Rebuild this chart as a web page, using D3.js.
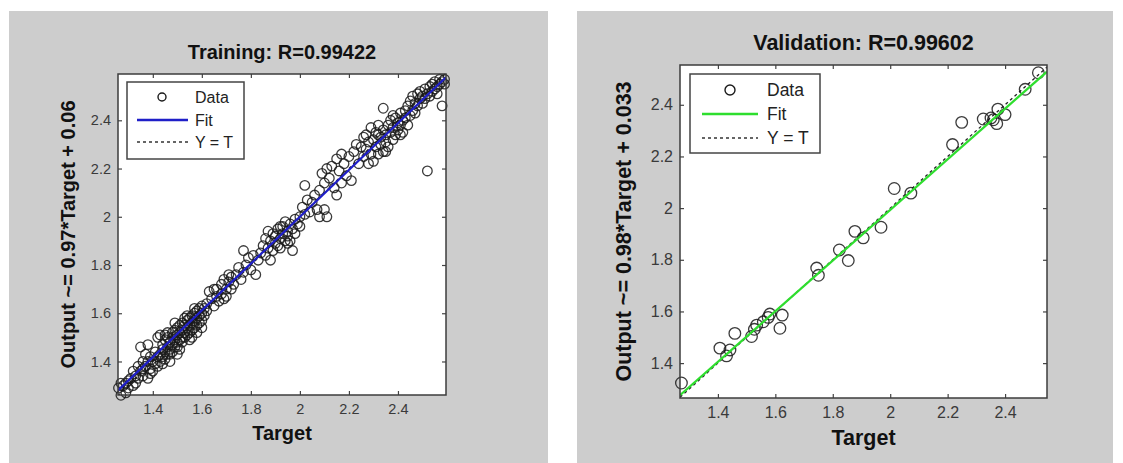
<!DOCTYPE html>
<html>
<head>
<meta charset="utf-8">
<script src="https://cdn.jsdelivr.net/npm/d3@7"></script>
<style>
  body { margin: 0; background: #fff; }
  svg { display: block; font-family: "Liberation Sans", Arial, sans-serif; }
</style>
</head>
<body>
<svg id="chart" width="1123" height="463"></svg>
<script>
// DATA
// tick values and labels (same on both axes, both panels)
var tickValues = [1.4, 1.6, 1.8, 2.0, 2.2, 2.4];
var tickLabels = ["1.4", "1.6", "1.8", "2", "2.2", "2.4"];

// training set: [target, output]
var trainPoints = [
  [1.26,1.29],[1.27,1.26],[1.27,1.31],[1.28,1.30],[1.29,1.27],[1.30,1.32],[1.30,1.29],[1.31,1.33],
  [1.32,1.36],[1.32,1.30],[1.33,1.34],[1.34,1.38],[1.34,1.33],[1.35,1.46],[1.35,1.36],[1.36,1.40],
  [1.36,1.34],[1.37,1.43],[1.37,1.38],[1.38,1.33],[1.38,1.47],[1.38,1.40],[1.39,1.37],[1.39,1.42],
  [1.40,1.40],[1.40,1.36],[1.29,1.31],[1.33,1.31],[1.36,1.37],[1.39,1.35],
  [1.41,1.44],[1.41,1.39],[1.42,1.42],[1.42,1.50],[1.42,1.38],[1.43,1.51],[1.43,1.43],[1.43,1.40],
  [1.44,1.45],[1.44,1.47],[1.44,1.42],[1.45,1.49],[1.45,1.44],[1.45,1.41],[1.46,1.46],[1.46,1.50],
  [1.46,1.43],[1.47,1.48],[1.47,1.45],[1.47,1.43],[1.48,1.50],[1.48,1.47],[1.48,1.52],[1.48,1.44],
  [1.49,1.49],[1.49,1.46],[1.49,1.53],[1.50,1.51],[1.50,1.48],[1.50,1.54],[1.50,1.46],[1.51,1.52],
  [1.51,1.49],[1.51,1.55],[1.52,1.50],[1.52,1.53],[1.52,1.56],[1.52,1.48],[1.53,1.52],[1.53,1.55],
  [1.53,1.50],[1.54,1.54],[1.54,1.57],[1.54,1.51],[1.55,1.55],[1.55,1.52],[1.55,1.58],[1.56,1.56],
  [1.56,1.53],[1.56,1.59],[1.57,1.57],[1.57,1.54],[1.57,1.60],[1.58,1.58],[1.58,1.55],[1.58,1.61],
  [1.59,1.59],[1.59,1.56],[1.59,1.62],[1.60,1.60],[1.60,1.57],[1.61,1.62],[1.61,1.59],[1.62,1.61],
  [1.62,1.64],[1.45,1.51],[1.47,1.40],[1.49,1.56],[1.51,1.45],[1.53,1.58],[1.55,1.49],[1.57,1.62],
  [1.58,1.52],[1.60,1.63],[1.60,1.54],[1.44,1.39],[1.46,1.52],[1.50,1.43],[1.54,1.59],[1.56,1.50],
  [1.63,1.69],[1.64,1.66],[1.65,1.63],[1.66,1.70],[1.66,1.67],[1.67,1.65],[1.68,1.72],[1.68,1.68],
  [1.69,1.74],[1.70,1.70],[1.70,1.67],[1.71,1.73],[1.72,1.75],[1.72,1.70],[1.73,1.72],[1.74,1.76],
  [1.75,1.79],[1.77,1.86],[1.77,1.77],[1.78,1.80],[1.79,1.83],[1.80,1.78],[1.81,1.84],[1.82,1.76],
  [1.83,1.82],[1.84,1.85],[1.65,1.70],[1.69,1.66],[1.71,1.76],[1.76,1.74],
  [1.85,1.88],[1.86,1.84],[1.86,1.91],[1.87,1.94],[1.87,1.87],[1.88,1.82],[1.88,1.90],[1.89,1.93],
  [1.89,1.86],[1.90,1.89],[1.90,1.92],[1.91,1.95],[1.91,1.88],[1.92,1.91],[1.92,1.87],[1.93,1.96],
  [1.93,1.93],[1.94,1.90],[1.94,1.98],[1.95,1.94],[1.95,1.92],[1.96,1.97],[1.96,1.90],[1.97,1.86],
  [1.97,1.95],[1.98,1.99],[1.98,1.93],[1.99,1.97],[2.00,2.00],[2.00,1.96],[1.92,1.96],[1.95,1.89],
  [2.01,2.04],[2.02,2.13],[2.02,2.01],[2.03,2.07],[2.04,2.02],[2.05,2.06],[2.06,2.09],[2.07,2.03],
  [2.08,2.00],[2.08,2.11],[2.09,2.18],[2.10,2.03],[2.10,2.14],[2.11,2.20],[2.11,2.00],[2.12,2.16],
  [2.13,2.21],[2.14,2.12],[2.15,2.24],[2.15,2.09],[2.16,2.19],[2.17,2.14],[2.17,2.26],[2.18,2.22],
  [2.19,2.17],[2.20,2.25],[2.21,2.15],[2.22,2.27],[2.23,2.30],[2.24,2.22],[2.25,2.29],
  [2.26,2.33],[2.26,2.25],[2.27,2.34],[2.27,2.28],[2.28,2.22],[2.28,2.31],[2.29,2.37],[2.29,2.26],
  [2.30,2.32],[2.30,2.23],[2.31,2.35],[2.31,2.29],[2.32,2.38],[2.32,2.26],[2.33,2.33],[2.33,2.30],
  [2.34,2.45],[2.34,2.36],[2.34,2.27],[2.35,2.34],[2.35,2.31],[2.36,2.38],[2.36,2.29],[2.37,2.35],
  [2.37,2.40],[2.38,2.32],[2.38,2.37],[2.39,2.41],[2.39,2.34],[2.40,2.39],[2.40,2.36],[2.41,2.43],
  [2.41,2.38],[2.42,2.40],[2.42,2.35],[2.43,2.44],[2.43,2.41],[2.44,2.38],[2.44,2.46],[2.45,2.42],
  [2.32,2.34],[2.35,2.27],[2.38,2.42],[2.41,2.34],
  [2.45,2.48],[2.46,2.44],[2.46,2.50],[2.47,2.47],[2.47,2.43],[2.48,2.51],[2.48,2.46],[2.49,2.49],
  [2.49,2.52],[2.50,2.47],[2.50,2.50],[2.51,2.53],[2.51,2.49],[2.52,2.51],[2.52,2.19],[2.53,2.54],
  [2.53,2.50],[2.54,2.52],[2.54,2.55],[2.55,2.53],[2.55,2.56],[2.56,2.54],[2.56,2.51],[2.57,2.55],
  [2.57,2.57],[2.58,2.56],[2.58,2.46],[2.59,2.57],[2.59,2.55]
];

// validation set: [target, output]
var valPoints = [
  [1.273,1.323],[1.407,1.458],[1.430,1.428],[1.442,1.451],[1.459,1.515],[1.517,1.503],[1.527,1.531],
  [1.535,1.547],[1.558,1.560],[1.575,1.577],[1.581,1.590],[1.616,1.535],[1.624,1.586],[1.744,1.768],
  [1.750,1.740],[1.823,1.838],[1.854,1.797],[1.877,1.910],[1.906,1.885],[1.968,1.926],[2.014,2.076],
  [2.072,2.058],[2.217,2.246],[2.249,2.332],[2.324,2.345],[2.351,2.349],[2.359,2.342],[2.371,2.327],
  [2.375,2.383],[2.400,2.362],[2.470,2.460],[2.516,2.524]
];

// regression fits: output ~= slope*target + intercept
var trainFit = {slope: 0.97, intercept: 0.06};
var valFit = {slope: 0.98, intercept: 0.033};

var legendLabels = ["Data", "Fit", "Y = T"];

// LAYOUT of the two panels
var panels = [
  {
    bg: [9, 11, 539, 452], plot: [118, 74, 446, 395],
    xDom: [1.258, 2.596], yDom: [1.261, 2.592],
    points: trainPoints, fit: trainFit, fitColor: "#1f1fc8",
    title: "Training: R=0.99422", ylabel: "Output ~= 0.97*Target + 0.06",
    titleY: 59, ylabelX: 68, xlabelY: 440, labelSize: 20, tickSize: 14.5, r: 4.8,
    legend: {box: [127, 82, 244, 159], rows: [97, 120, 142], mark: 162, line: [137, 188], text: 195, size: 16}
  },
  {
    bg: [577, 11, 536, 452], plot: [680, 65, 1047, 398],
    xDom: [1.268, 2.546], yDom: [1.265, 2.554],
    points: valPoints, fit: valFit, fitColor: "#2ede2e",
    title: "Validation: R=0.99602", ylabel: "Output ~= 0.98*Target + 0.033",
    titleY: 50, ylabelX: 623, xlabelY: 445, labelSize: 21.5, tickSize: 16, r: 5.8,
    legend: {box: [690, 74, 820, 153], rows: [90, 114, 138], mark: 730, line: [702, 758], text: 767, size: 17.5}
  }
];

var svg = d3.select("#chart");

panels.forEach(function(p) {
  var g = svg.append("g");
  var x0 = p.plot[0], y0 = p.plot[1], x1 = p.plot[2], y1 = p.plot[3];

  g.append("rect")
    .attr("x", p.bg[0]).attr("y", p.bg[1])
    .attr("width", p.bg[2]).attr("height", p.bg[3])
    .attr("fill", "#cdcdcd");

  var x = d3.scaleLinear().domain(p.xDom).range([x0, x1]);
  var y = d3.scaleLinear().domain(p.yDom).range([y1, y0]);

  g.append("rect")
    .attr("x", x0).attr("y", y0)
    .attr("width", x1 - x0).attr("height", y1 - y0)
    .attr("fill", "#fff");

  var fmt = function(d) { return tickLabels[tickValues.indexOf(d)]; };

  // axes, ticks point inwards like matlab
  g.append("g").attr("transform", "translate(0," + y1 + ")")
    .call(d3.axisBottom(x).tickValues(tickValues).tickFormat(fmt).tickSizeInner(-4).tickSizeOuter(0).tickPadding(9));
  g.append("g").attr("transform", "translate(" + x0 + ",0)")
    .call(d3.axisLeft(y).tickValues(tickValues).tickFormat(fmt).tickSizeInner(-4).tickSizeOuter(0).tickPadding(7));
  g.append("g").attr("transform", "translate(0," + y0 + ")")
    .call(d3.axisTop(x).tickValues(tickValues).tickFormat("").tickSizeInner(-4).tickSizeOuter(0));
  g.append("g").attr("transform", "translate(" + x1 + ",0)")
    .call(d3.axisRight(y).tickValues(tickValues).tickFormat("").tickSizeInner(-4).tickSizeOuter(0));

  g.selectAll(".domain").remove();
  g.selectAll(".tick line").attr("stroke", "#444").attr("stroke-width", 1.2);
  g.selectAll(".tick text")
    .attr("fill", "#3a3a3a")
    .style("font-size", p.tickSize + "px")
    .style("font-family", "'Liberation Sans', Arial, sans-serif");

  // clip for lines
  var clipId = "clip" + x0;
  g.append("clipPath").attr("id", clipId).append("rect")
    .attr("x", x0).attr("y", y0).attr("width", x1 - x0).attr("height", y1 - y0);

  var lo = p.xDom[0], hi = p.xDom[1];

  // Y = T dotted line
  g.append("line")
    .attr("clip-path", "url(#" + clipId + ")")
    .attr("x1", x(lo)).attr("y1", y(lo))
    .attr("x2", x(hi)).attr("y2", y(hi))
    .attr("stroke", "#222").attr("stroke-width", 1.3)
    .attr("stroke-dasharray", "3,3");

  // data circles
  g.append("g").selectAll("circle")
    .data(p.points)
    .enter()
    .append("circle")
    .attr("cx", function(d) { return x(d[0]); })
    .attr("cy", function(d) { return y(d[1]); })
    .attr("r", p.r)
    .attr("fill", "none")
    .attr("stroke", "#1a1a1a")
    .attr("stroke-width", 1.3)
    .attr("stroke-opacity", 0.85);

  // fit line
  g.append("line")
    .attr("clip-path", "url(#" + clipId + ")")
    .attr("x1", x(lo)).attr("y1", y(p.fit.slope * lo + p.fit.intercept))
    .attr("x2", x(hi)).attr("y2", y(p.fit.slope * hi + p.fit.intercept))
    .attr("stroke", p.fitColor).attr("stroke-width", 2.2);

  // plot box
  g.append("rect")
    .attr("x", x0).attr("y", y0)
    .attr("width", x1 - x0).attr("height", y1 - y0)
    .attr("fill", "none").attr("stroke", "#3c3c3c").attr("stroke-width", 1.5);

  // legend
  var L = p.legend;
  g.append("rect")
    .attr("x", L.box[0]).attr("y", L.box[1])
    .attr("width", L.box[2] - L.box[0]).attr("height", L.box[3] - L.box[1])
    .attr("fill", "#fff").attr("stroke", "#444").attr("stroke-width", 1.5);
  g.append("circle")
    .attr("cx", L.mark).attr("cy", L.rows[0]).attr("r", p.r - 0.8)
    .attr("fill", "none").attr("stroke", "#1a1a1a").attr("stroke-width", 1.4);
  g.append("line")
    .attr("x1", L.line[0]).attr("x2", L.line[1])
    .attr("y1", L.rows[1]).attr("y2", L.rows[1])
    .attr("stroke", p.fitColor).attr("stroke-width", 2.4);
  g.append("line")
    .attr("x1", L.line[0]).attr("x2", L.line[1])
    .attr("y1", L.rows[2]).attr("y2", L.rows[2])
    .attr("stroke", "#333").attr("stroke-width", 1.5)
    .attr("stroke-dasharray", "3,3");
  g.selectAll(".legtext")
    .data(legendLabels)
    .enter()
    .append("text")
    .attr("x", L.text)
    .attr("y", function(d, i) { return L.rows[i]; })
    .attr("dy", "0.35em")
    .attr("font-size", L.size)
    .attr("fill", "#222")
    .text(function(d) { return d; });

  // titles and labels
  var cx = (x0 + x1) / 2;
  g.append("text")
    .attr("x", cx).attr("y", p.titleY)
    .attr("text-anchor", "middle")
    .attr("font-weight", "bold").attr("font-size", p.labelSize)
    .attr("fill", "#111")
    .text(p.title);
  g.append("text")
    .attr("x", cx).attr("y", p.xlabelY)
    .attr("text-anchor", "middle")
    .attr("font-weight", "bold").attr("font-size", p.labelSize)
    .attr("fill", "#111")
    .text("Target");
  g.append("text")
    .attr("transform", "translate(" + p.ylabelX + "," + ((y0 + y1) / 2) + ") rotate(-90)")
    .attr("text-anchor", "middle")
    .attr("dy", "0.35em")
    .attr("font-weight", "bold").attr("font-size", p.labelSize)
    .attr("fill", "#111")
    .text(p.ylabel);
});
</script>
</body>
</html>
